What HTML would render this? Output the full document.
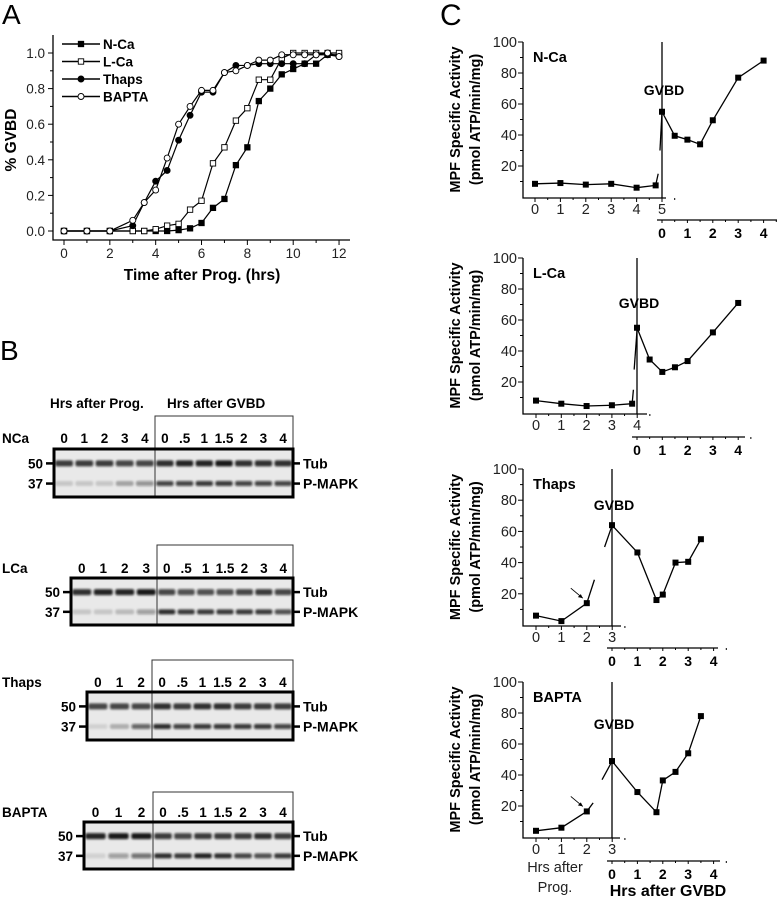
<!DOCTYPE html>
<html><head><meta charset="utf-8"><style>
html,body{margin:0;padding:0;background:#fff;}
svg{display:block;font-family:"Liberation Sans",Arial,sans-serif;}
</style></head><body>
<svg id="fig" width="777" height="899" viewBox="0 0 777 899" xmlns="http://www.w3.org/2000/svg">
<defs><filter id="blur" x="-20%" y="-100%" width="140%" height="300%"><feGaussianBlur stdDeviation="1.1"/></filter></defs>
</svg>
<script>
// ---------- Panel A data ----------
const aTimes = [0,1,2,3,3.5,4,4.5,5,5.5,6,6.5,7,7.5,8,8.5,9,9.5,10,10.5,11,11.5,12];
const aNCa  = [0,0,0,0,0,0,0,0.005,0.015,0.045,0.13,0.18,0.37,0.47,0.73,0.80,0.88,0.91,0.94,0.94,0.99,0.99];
const aLCa  = [0,0,0,0,0,0.01,0.03,0.04,0.12,0.17,0.38,0.47,0.62,0.69,0.85,0.85,0.97,1.0,1.0,1.0,1.0,1.0];
const aThaps= [0,0,0,0.03,0.16,0.28,0.34,0.51,0.65,0.78,0.78,0.89,0.93,0.93,0.94,0.94,0.94,0.94,0.94,0.99,0.99,0.98];
const aBAPTA= [0,0,0,0.06,0.16,0.23,0.41,0.60,0.70,0.79,0.79,0.89,0.90,0.93,0.96,0.96,0.99,0.99,0.99,0.99,1.0,0.98];
const aXTicks = [0,2,4,6,8,10,12];
const aYTicks = [0,0.2,0.4,0.6,0.8,1.0];
const aYTickLabels = ["0.0","0.2","0.4","0.6","0.8","1.0"];
const aLegend = ["N-Ca","L-Ca","Thaps","BAPTA"];

// ---------- Panel C data ----------
const cYTicks = [20,40,60,80,100];
const ncaPreX = [0,1,2,3,4,4.75];   const ncaPreY = [8.5,9,8,8.5,6,7.5];
const ncaPostX = [0,0.5,1,1.5,2,3,4]; const ncaPostY = [55,39.5,37,34,49.5,77,88];
const ncaBreak = [4.75,7.5,4.85,15, 4.92,30,5,55];
const ncaPreTicks = [0,1,2,3,4,5];
const lcaPreX = [0,1,2,3,3.8];      const lcaPreY = [8,6,4.5,5,6];
const lcaPostX = [0,0.5,1,1.5,2,3,4]; const lcaPostY = [55,34.5,26.5,29.5,33.5,52,71];
const lcaBreak = [3.8,6,3.85,15, 3.88,28,4,55];
const lcaPreTicks = [0,1,2,3,4];
const thPreX = [0,1,2];             const thPreY = [6,2.5,14];
const thPostX = [0,1,1.75,2,2.5,3,3.5]; const thPostY = [64,46.5,16,19.5,40,40.5,55];
const thBreak = [2,14,2.3,29, 2.7,50,3,64];
const thPreTicks = [0,1,2,3];
const baPreX = [0,1,2];             const baPreY = [4,6,16.5];
const baPostX = [0,1,1.75,2,2.5,3,3.5]; const baPostY = [49,29,16,36.5,42,54,78];
const baBreak = [2,16.5,2.25,22, 2.6,37,3,49];
const baPreTicks = [0,1,2,3];
const cPostTicks = [0,1,2,3,4];

// ---------- Panel B data ----------
const ncaLanes = ["0","1","2","3","4","0",".5","1","1.5","2","3","4"];
const ncaTub  = [0.8,0.8,0.8,0.75,0.75,0.85,0.9,0.9,0.95,0.85,0.85,0.85];
const ncaMapk = [0.15,0.15,0.15,0.3,0.4,0.75,0.75,0.8,0.8,0.75,0.75,0.75];
const lcaLanes = ["0","1","2","3","0",".5","1","1.5","2","3","4"];
const lcaTub  = [0.85,0.9,0.9,0.95,0.75,0.7,0.7,0.7,0.75,0.8,0.75];
const lcaMapk = [0.15,0.15,0.2,0.35,0.85,0.8,0.8,0.8,0.8,0.8,0.7];
const thLanes = ["0","1","2","0",".5","1","1.5","2","3","4"];
const thTub   = [0.75,0.75,0.75,0.85,0.8,0.85,0.85,0.8,0.8,0.8];
const thMapk  = [0.1,0.25,0.6,0.85,0.75,0.8,0.8,0.8,0.8,0.75];
const baLanes = ["0","1","2","0",".5","1","1.5","2","3","4"];
const baTub   = [0.9,0.95,0.95,0.8,0.75,0.8,0.8,0.8,0.85,0.8];
const baMapk  = [0.1,0.35,0.55,0.85,0.8,0.9,0.85,0.75,0.7,0.8];

const NS = "http://www.w3.org/2000/svg";
const svg = document.getElementById('fig');
function mk(tag, attrs, parent){
  const e = document.createElementNS(NS, tag);
  for (const k in attrs) e.setAttribute(k, attrs[k]);
  (parent||svg).appendChild(e);
  return e;
}
function txt(s, attrs, parent){ const t = mk('text', attrs, parent); t.textContent = s; return t; }

// ================= PANEL A =================
const gA = mk('g', {});


let t = txt("A", {x:2, y:24, 'font-size':28});


const xA = v => 64 + v*22.92;
const yA = v => 231 - v*178;
let ax = mk('path', {d:'M53,35 V240 H350', fill:'none', stroke:'#000', 'stroke-width':1.3}, gA);


for (let v=0; v<=1.0001; v+=0.1){
  const major = Math.abs(Math.round(v*10)%2)===0;
  mk('line',{x1:53,x2:major?48:50,y1:yA(v),y2:yA(v),stroke:'#000','stroke-width':1},gA);
}
aYTicks.forEach((v,i)=>{
  const l = txt(aYTickLabels[i], {x:45, y:yA(v)+5, 'font-size':13.5, 'text-anchor':'end', fill:'#222'}, gA);
  
  
});
for (let v=0; v<=12; v+=1){
  mk('line',{x1:xA(v),x2:xA(v),y1:240,y2:v%2===0?245:243,stroke:'#000','stroke-width':1},gA);
}
aXTicks.forEach(v=>{
  const l = txt(String(v), {x:xA(v), y:258, 'font-size':13.5, 'text-anchor':'middle', fill:'#222'}, gA);
  
  
});
t = txt("Time after Prog. (hrs)", {x:202, y:280, 'font-size':15.5, 'font-weight':'bold', 'text-anchor':'middle'}, gA);


t = txt("% GVBD", {x:0, y:0, 'font-size':15.5, 'font-weight':'bold', 'text-anchor':'middle', transform:'translate(16,140) rotate(-90)'}, gA);



function marker(kind, x, y, parent){
  let m;
  if (kind==='sq' || kind==='osq') m = mk('rect',{x:x-2.7,y:y-2.7,width:5.4,height:5.4,fill:kind==='sq'?'#000':'#fff',stroke:'#000','stroke-width':0.9},parent);
  else m = mk('circle',{cx:x,cy:y,r:3,fill:kind==='ci'?'#000':'#fff',stroke:'#000','stroke-width':0.9},parent);
  return m;
}
const aSeries = [[aNCa,'sq'],[aLCa,'osq'],[aThaps,'ci'],[aBAPTA,'oci']];
aSeries.forEach((s,si)=>{
  const g = mk('g',{},gA);
  
  
  const pts = aTimes.map((tt,i)=>xA(tt)+','+yA(s[0][i])).join(' ');
  mk('polyline',{points:pts,fill:'none',stroke:'#000','stroke-width':1.2},g);
  aTimes.forEach((tt,i)=>{ const m = marker(s[1], xA(tt), yA(s[0][i]), g);
    
     });
  const ly = 44 + si*17.5;
  const lg = mk('g',{},gA);
  
  
  mk('line',{x1:62,x2:100,y1:ly,y2:ly,stroke:'#000','stroke-width':1.4},lg);
  marker(s[1], 81, ly, lg);
  txt(aLegend[si], {x:103, y:ly+5, 'font-size':13.5, 'font-weight':'bold'}, lg);
});

// ================= PANEL C =================
t = txt("C", {x:440, y:25, 'font-size':30});



function drawC(cfg){
  const g = mk('g',{});
  
  
  const y0 = cfg.y100 + 5*cfg.per20; // y of value 0
  const Y = v => y0 - v*cfg.per20/20;
  const Xpre = v => cfg.x0 + v*cfg.unit;
  const Xpost = v => cfg.xg + v*cfg.unit;
  // axes
  const axp = mk('path',{d:`M523,${cfg.y100} V${y0+1} H${cfg.axEnd}`,fill:'none',stroke:'#000','stroke-width':1.3},g);
  
  
  for (let v=10; v<=100; v+=10){
    mk('line',{x1:523,x2:v%20===0?518:520,y1:Y(v),y2:Y(v),stroke:'#000','stroke-width':1},g);
  }
  cYTicks.forEach(v=>{
    const l = txt(String(v),{x:517,y:Y(v)+5,'font-size':14.5,'text-anchor':'end',fill:'#222'},g);
    
    
  });
  cfg.preTicks.forEach(v=>{
    mk('line',{x1:Xpre(v),x2:Xpre(v),y1:y0+1,y2:y0+5,stroke:'#000','stroke-width':1},g);
    mk('line',{x1:Xpre(v+0.5),x2:Xpre(v+0.5),y1:y0+1,y2:y0+3,stroke:'#000','stroke-width':1},g);
    const l = txt(String(v),{x:Xpre(v),y:y0+17,'font-size':14.5,'text-anchor':'middle',fill:'#222'},g);
    
    
  });
  // GVBD line
  const gl = mk('line',{x1:cfg.xg,x2:cfg.xg,y1:cfg.y100,y2:y0+1,stroke:'#000','stroke-width':1.3},g);
  
  
  // second axis
  const a2 = mk('line',{x1:cfg.xg-5,x2:cfg.ax2End,y1:cfg.ax2Y,y2:cfg.ax2Y,stroke:'#000','stroke-width':1.3},g);
  
  
  cPostTicks.forEach(v=>{
    mk('line',{x1:Xpost(v),x2:Xpost(v),y1:cfg.ax2Y,y2:cfg.ax2Y+3,stroke:'#000','stroke-width':1},g);
    mk('line',{x1:Xpost(v+0.5),x2:Xpost(v+0.5),y1:cfg.ax2Y,y2:cfg.ax2Y+2,stroke:'#000','stroke-width':1},g);
    const l = txt(String(v),{x:Xpost(v),y:cfg.ax2Y+18,'font-size':14,'font-weight':'bold','text-anchor':'middle'},g);
    
    
  });
  // y title
  const yt = txt("MPF Specific Activity",{x:0,y:0,'font-size':14.5,'font-weight':'bold','text-anchor':'middle',transform:`translate(460,${(cfg.y100+y0)/2}) rotate(-90)`},g);
  
  
  const yt2 = txt("(pmol ATP/min/mg)",{x:0,y:0,'font-size':14.5,'font-weight':'bold','text-anchor':'middle',transform:`translate(480,${(cfg.y100+y0)/2}) rotate(-90)`},g);
  
  
  const nm = txt(cfg.name,{x:533,y:cfg.y100+20,'font-size':14.5,'font-weight':'bold'},g);
  
  
  const gv = txt("GVBD",{x:cfg.xg+2,y:cfg.y100+cfg.gvbdDy,'font-size':14,'font-weight':'bold','text-anchor':'middle'},g);
  
  
  // series
  const pre = cfg.preX.map((v,i)=>Xpre(v)+','+Y(cfg.preY[i])).join(' ');
  const pl = mk('polyline',{points:pre,fill:'none',stroke:'#000','stroke-width':1.3},g);
  
  
  const b = cfg.brk;
  mk('line',{x1:Xpre(b[0]),y1:Y(b[1]),x2:Xpre(b[2]),y2:Y(b[3]),stroke:'#000','stroke-width':1.3},g);
  mk('line',{x1:Xpre(b[4]),y1:Y(b[5]),x2:Xpre(b[6]),y2:Y(b[7]),stroke:'#000','stroke-width':1.3},g);
  const post = cfg.postX.map((v,i)=>Xpost(v)+','+Y(cfg.postY[i])).join(' ');
  const pp = mk('polyline',{points:post,fill:'none',stroke:'#000','stroke-width':1.3},g);
  
  
  cfg.preX.forEach((v,i)=>{ const m = mk('rect',{x:Xpre(v)-3,y:Y(cfg.preY[i])-3,width:6,height:6,fill:'#000'},g);
      });
  cfg.postX.forEach((v,i)=>{ const m = mk('rect',{x:Xpost(v)-3,y:Y(cfg.postY[i])-3,width:6,height:6,fill:'#000'},g);
      });
  if (cfg.arrow){
    const ar = mk('g',{},g);
    
    
    const ex = Xpre(cfg.preX[2])-4, ey = Y(cfg.preY[2])-5;
    mk('line',{x1:ex-12,y1:ey-10,x2:ex,y2:ey,stroke:'#000','stroke-width':0.9},ar);
    mk('path',{d:`M${ex},${ey} l-5,-1 l3,-3 z`,fill:'#000'},ar);
  }
}
drawC({name:"N-Ca",y100:42,per20:31,x0:535,unit:25.4,xg:662,axEnd:666,ax2Y:220,ax2End:777,preTicks:ncaPreTicks,
  preX:ncaPreX,preY:ncaPreY,postX:ncaPostX,postY:ncaPostY,brk:ncaBreak,gvbdDy:53});
drawC({name:"L-Ca",y100:258,per20:31,x0:536,unit:25.3,xg:637,axEnd:647,ax2Y:437,ax2End:745,preTicks:lcaPreTicks,
  preX:lcaPreX,preY:lcaPreY,postX:lcaPostX,postY:lcaPostY,brk:lcaBreak,gvbdDy:50});
drawC({name:"Thaps",y100:469,per20:31.2,x0:536,unit:25.4,xg:612,axEnd:621,ax2Y:648,ax2End:718,preTicks:thPreTicks,
  preX:thPreX,preY:thPreY,postX:thPostX,postY:thPostY,brk:thBreak,gvbdDy:41,arrow:true});
drawC({name:"BAPTA",y100:682,per20:31,x0:536,unit:25.4,xg:612,axEnd:620,ax2Y:861,ax2End:720,preTicks:baPreTicks,
  preX:baPreX,preY:baPreY,postX:baPostX,postY:baPostY,brk:baBreak,gvbdDy:47,arrow:true});
t = txt("Hrs after",{x:555,y:872,'font-size':14.5,'text-anchor':'middle',fill:'#222'});


t = txt("Prog.",{x:555,y:892,'font-size':14.5,'text-anchor':'middle',fill:'#222'});


t = txt("Hrs after GVBD",{x:668,y:896,'font-size':16,'font-weight':'bold','text-anchor':'middle'});



// ================= PANEL B =================
t = txt("B",{x:0,y:360,'font-size':28});


t = txt("Hrs after Prog.",{x:50,y:408,'font-size':13.5,'font-weight':'bold'});


t = txt("Hrs after GVBD",{x:167,y:408,'font-size':13.5,'font-weight':'bold'});



function drawBlot(cfg){
  const g = mk('g',{});
  
  
  const nPre = cfg.nPre, nPost = cfg.lanes.length - nPre;
  const lw1 = (cfg.div - cfg.x1)/nPre, lw2 = (cfg.x2 - cfg.div)/nPost;
  const laneX = i => i<nPre ? cfg.x1 + lw1*(i+0.5) : cfg.div + lw2*(i-nPre+0.5);
  const laneW = i => i<nPre ? lw1 : lw2;
  mk('rect',{x:cfg.div,y:cfg.hy,width:cfg.x2-cfg.div,height:cfg.y1-cfg.hy,fill:'none',stroke:'#333','stroke-width':1},g);
  const bg = mk('rect',{x:cfg.x1,y:cfg.y1,width:cfg.x2-cfg.x1,height:cfg.y2-cfg.y1,fill:'#e9e9e9'},g);
  
  
  const tubY = cfg.y1 + (cfg.y2-cfg.y1)*0.3, mapY = cfg.y1 + (cfg.y2-cfg.y1)*0.72;
  cfg.lanes.forEach((s,i)=>{
    const lx = laneX(i), w = laneW(i)*0.88;
    const bt = mk('rect',{x:lx-w/2,y:tubY-3,width:w,height:6,rx:2,fill:'#111','fill-opacity':cfg.tub[i],filter:'url(#blur)'},g);
    
    
    const bm = mk('rect',{x:lx-w/2,y:mapY-2.5,width:w,height:5,rx:2,fill:'#111','fill-opacity':cfg.mapk[i],filter:'url(#blur)'},g);
    
    
    const l = txt(s,{x:lx,y:cfg.ly,'font-size':13.5,'font-weight':'bold','text-anchor':'middle'},g);
    
    
  });
  mk('line',{x1:cfg.div,x2:cfg.div,y1:cfg.y1,y2:cfg.y2,stroke:'#333','stroke-width':1},g);
  const fr = mk('rect',{x:cfg.x1,y:cfg.y1,width:cfg.x2-cfg.x1,height:cfg.y2-cfg.y1,fill:'none',stroke:'#000','stroke-width':3},g);
  
  
  const nl = txt(cfg.name,{x:2,y:cfg.ly,'font-size':13.5,'font-weight':'bold'},g);
  
  
  [[tubY,"50","Tub"],[mapY,"37","P-MAPK"]].forEach(r=>{
    mk('line',{x1:cfg.x1-8,x2:cfg.x1,y1:r[0],y2:r[0],stroke:'#000','stroke-width':2.5},g);
    mk('line',{x1:cfg.x2,x2:cfg.x2+7,y1:r[0],y2:r[0],stroke:'#000','stroke-width':2.5},g);
    const m = txt(r[1],{x:cfg.x1-11,y:r[0]+5,'font-size':13.5,'font-weight':'bold','text-anchor':'end'},g);
    
    
    const p = txt(r[2],{x:cfg.x2+10,y:r[0]+5,'font-size':14,'font-weight':'bold'},g);
    
    
  });
}
drawBlot({name:"NCa",lanes:ncaLanes,tub:ncaTub,mapk:ncaMapk,nPre:5,x1:54,x2:293,div:155,y1:449,y2:497,hy:416,ly:443});
drawBlot({name:"LCa",lanes:lcaLanes,tub:lcaTub,mapk:lcaMapk,nPre:4,x1:71,x2:293,div:157,y1:578,y2:625,hy:545,ly:573});
drawBlot({name:"Thaps",lanes:thLanes,tub:thTub,mapk:thMapk,nPre:3,x1:87,x2:293,div:152,y1:692,y2:740,hy:660,ly:687});
drawBlot({name:"BAPTA",lanes:baLanes,tub:baTub,mapk:baMapk,nPre:3,x1:84,x2:293,div:153,y1:822,y2:869,hy:792,ly:817});
</script>
</body></html>
